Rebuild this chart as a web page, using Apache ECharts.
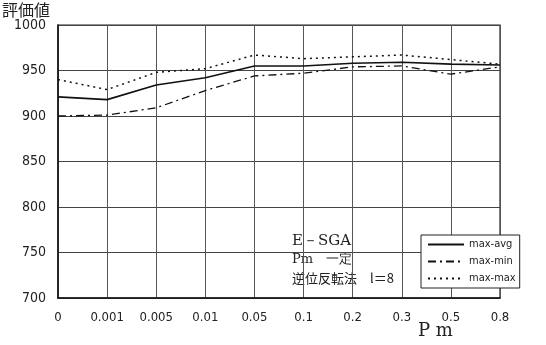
<!DOCTYPE html>
<html lang="ja">
<head>
  <meta charset="UTF-8">
  <title>評価値 - Pm</title>
  <script src="https://cdn.jsdelivr.net/npm/echarts@6/dist/echarts.min.js"></script>
  <style>
    html, body { margin: 0; padding: 0; background: #fff; }
    #chart { width: 546px; height: 345px; }
  </style>
</head>
<body>
  <div id="chart"></div>
  <script>
    // x軸カテゴリ (Pm)
    const pmLabels = ['0', '0.001', '0.005', '0.01', '0.05', '0.1', '0.2', '0.3', '0.5', '0.8'];
    // 各系列の評価値
    const maxAvg = [921, 918, 934, 942, 955, 955, 958, 959, 957, 956];
    const maxMin = [900, 901, 909, 928, 944, 947, 954, 955, 946, 954];
    const maxMax = [940, 929, 948, 952, 967, 963, 965, 967, 962, 957];

    const condensed = '"DejaVu Sans Condensed", "DejaVu Sans", sans-serif';
    const jp = '"Noto Sans CJK JP", sans-serif';

    const chart = echarts.init(document.getElementById('chart'));
    chart.setOption({
      animation: false,
      backgroundColor: '#fff',
      grid: { left: 58, right: 46, top: 25, bottom: 47, show: true, borderColor: '#222', borderWidth: 1.2 },
      xAxis: {
        type: 'category',
        data: pmLabels,
        boundaryGap: false,
        axisLine: { lineStyle: { color: '#111', width: 1.5 } },
        axisTick: { show: false },
        axisLabel: { color: '#222', fontFamily: condensed, fontSize: 13, margin: 13 },
        splitLine: { show: true, lineStyle: { color: '#555', width: 1 } }
      },
      yAxis: {
        type: 'value',
        min: 700,
        max: 1000,
        interval: 50,
        axisLine: { show: true, lineStyle: { color: '#111', width: 1.5 } },
        axisTick: { show: false },
        axisLabel: { color: '#222', fontFamily: condensed, fontSize: 14, margin: 12, formatter: v => String(v) },
        splitLine: { show: true, lineStyle: { color: '#444', width: 1 } }
      },
      legend: {
        orient: 'vertical',
        left: 421,
        top: 235,
        itemGap: 6,
        itemWidth: 36,
        itemHeight: 10,
        padding: [4, 4, 4, 6],
        borderColor: '#222',
        borderWidth: 1,
        backgroundColor: '#fff',
        itemStyle: { opacity: 0 },
        textStyle: { fontFamily: condensed, fontSize: 11, color: '#222' },
        data: ['max-avg', 'max-min', 'max-max']
      },
      series: [
        {
          name: 'max-avg', type: 'line', data: maxAvg, symbol: 'none',
          lineStyle: { color: '#111', width: 1.6, type: 'solid' }, itemStyle: { color: '#111' }
        },
        {
          name: 'max-min', type: 'line', data: maxMin, symbol: 'none',
          lineStyle: { color: '#111', width: 1.3, type: [8, 4, 2, 4] }, itemStyle: { color: '#111' }
        },
        {
          name: 'max-max', type: 'line', data: maxMax, symbol: 'none',
          lineStyle: { color: '#111', width: 1.5, type: [2, 4] }, itemStyle: { color: '#111' }
        }
      ],
      graphic: [
        { type: 'text', left: 2, top: 2, style: { text: '評価値', font: '16px ' + jp, fill: '#222' } },
        { type: 'text', left: 418, top: 322, style: { text: 'P m', font: '18px "DejaVu Serif", serif', fill: '#222' } },
        { type: 'text', left: 292, top: 234, style: { text: 'E－SGA', font: '15px "DejaVu Serif", serif', fill: '#222' } },
        { type: 'text', left: 292, top: 253, style: { text: 'Pm　一定', font: '13px "DejaVu Serif", serif', fill: '#222' } },
        { type: 'text', left: 292, top: 272, style: { text: '逆位反転法　l＝8', font: '13px ' + jp, fill: '#222' } }
      ]
    });
  </script>
</body>
</html>
